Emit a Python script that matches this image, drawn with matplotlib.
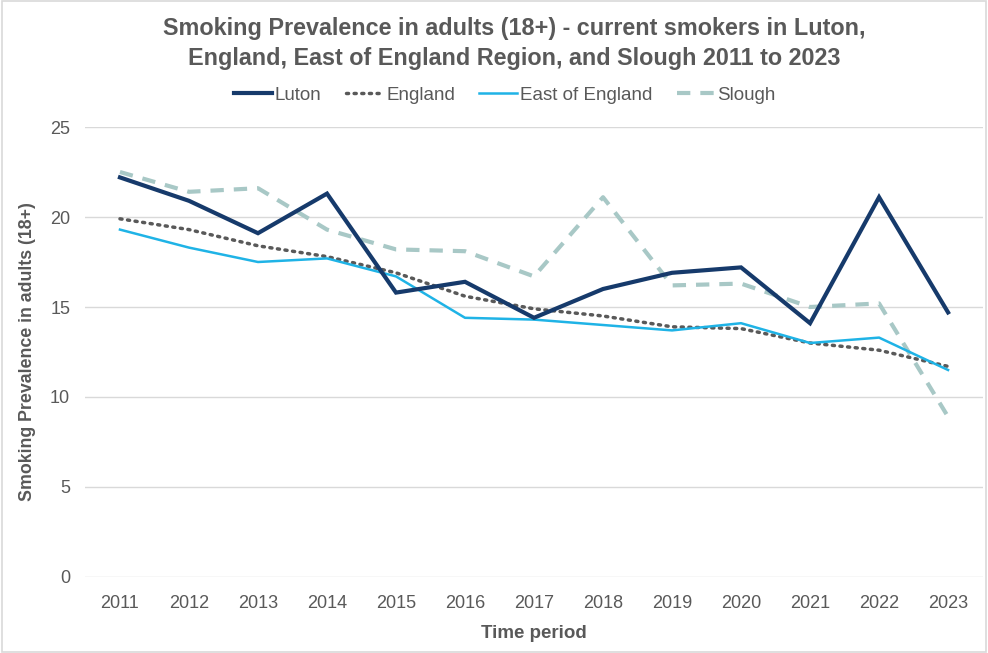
import matplotlib
matplotlib.use("Agg")
import matplotlib.pyplot as plt
from matplotlib.patches import Rectangle

plt.rcParams['font.family'] = ['Liberation Sans', 'DejaVu Sans']

years = ['2011', '2012', '2013', '2014', '2015', '2016', '2017',
         '2018', '2019', '2020', '2021', '2022', '2023']
luton = [22.2, 20.9, 19.1, 21.3, 15.8, 16.4, 14.4, 16.0, 16.9, 17.2, 14.1, 21.1, 14.7]
england = [19.9, 19.3, 18.4, 17.8, 16.9, 15.6, 14.9, 14.5, 13.9, 13.8, 13.0, 12.6, 11.7]
east_of_england = [19.3, 18.3, 17.5, 17.7, 16.7, 14.4, 14.3, 14.0, 13.7, 14.1, 13.0, 13.3, 11.5]
slough = [22.5, 21.4, 21.6, 19.3, 18.2, 18.1, 16.7, 21.1, 16.2, 16.3, 15.0, 15.2, 8.9]

text_grey = '#595959'

fig = plt.figure(figsize=(9.88, 6.53), dpi=100)
ax = fig.add_axes([0.0865, 0.1164, 0.908, 0.6891])

x = range(len(years))
ax.plot(x, luton, color='#163A6B', lw=3.0, label='Luton', solid_joinstyle='miter', zorder=4)
ax.plot(x, england, color='#595959', lw=2.5, ls=(0, (0.6, 1.6)), dash_capstyle='round',
        label='England', zorder=3)
ax.plot(x, east_of_england, color='#1FB3E6', lw=1.8, label='East of England', zorder=3)
ax.plot(x, slough, color='#A8C8C6', lw=3.0, ls=(0, (3.2, 2.4)), label='Slough', zorder=2)

ax.set_xlim(-0.5, 12.5)
ax.set_ylim(0, 25)
ax.set_yticks([0, 5, 10, 15, 20, 25])
ax.set_xticks(list(x))
ax.set_xticklabels(years)
ax.grid(axis='y', color='#D9D9D9', lw=1)
ax.set_axisbelow(True)
for s in ax.spines.values():
    s.set_visible(False)
ax.tick_params(axis='both', length=0, labelsize=13, colors=text_grey, labelcolor=text_grey)
ax.tick_params(axis='x', pad=13)
ax.tick_params(axis='y', pad=11)

ax.set_ylabel('Smoking Prevalence in adults (18+)', fontsize=12.8, fontweight='bold',
              color=text_grey, labelpad=10)
ax.set_xlabel('Time period', fontsize=13.5, fontweight='bold', color=text_grey, labelpad=9)

fig.text(0.521, 0.934, 'Smoking Prevalence in adults (18+) - current smokers in Luton,\n'
         'England, East of England Region, and Slough 2011 to 2023',
         ha='center', va='center', fontsize=16.8, fontweight='bold', color=text_grey,
         linespacing=1.38)

fig.legend(loc='center', bbox_to_anchor=(0.511, 0.854), ncol=4, frameon=False,
           fontsize=13.5, labelcolor=text_grey, handlelength=2.0, columnspacing=1.3,
           handletextpad=0.15)

fig.patches.append(Rectangle((0.002, 0.002), 0.996, 0.996, transform=fig.transFigure,
                             fill=False, edgecolor='#D9D9D9', lw=1.2))

fig.savefig('out.png', dpi=100, facecolor='white')
